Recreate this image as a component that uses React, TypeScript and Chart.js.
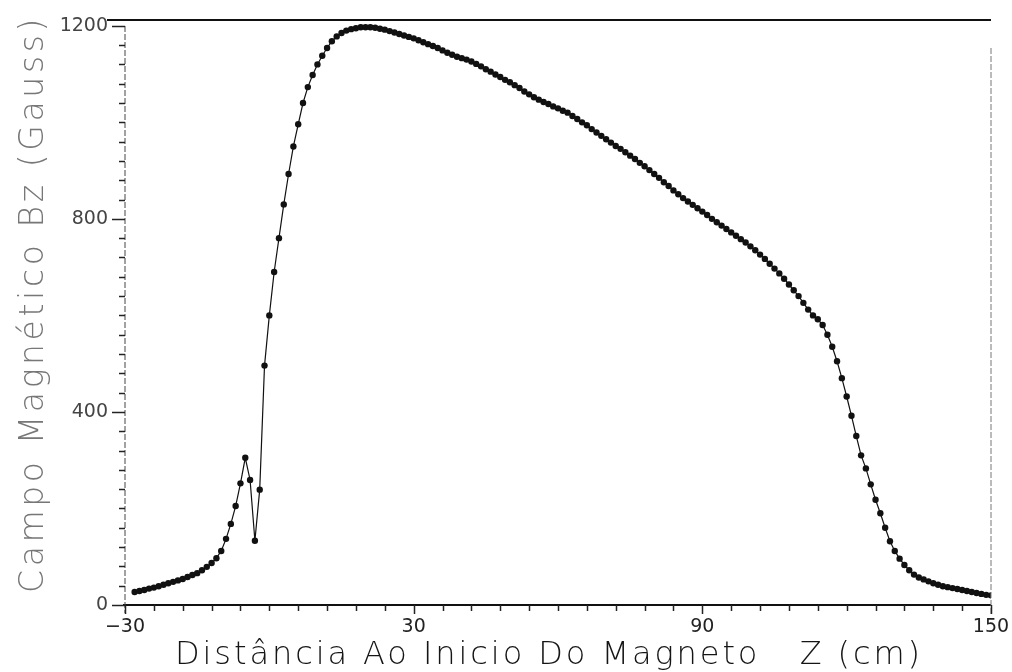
import { useEffect, useRef } from 'react';
import { Chart, registerables } from 'chart.js';

Chart.register(...registerables);

const zPositions = [
  -28, -27, -26, -25, -24, -23, -22, -21, -20, -19,
  -18, -17, -16, -15, -14, -13, -12, -11, -10, -9,
  -8, -7, -6, -5, -4, -3, -2, -1, 0, 1,
  2, 3, 4, 5, 6, 7, 8, 9, 10, 11,
  12, 13, 14, 15, 16, 17, 18, 19, 20, 21,
  22, 23, 24, 25, 26, 27, 28, 29, 30, 31,
  32, 33, 34, 35, 36, 37, 38, 39, 40, 41,
  42, 43, 44, 45, 46, 47, 48, 49, 50, 51,
  52, 53, 54, 55, 56, 57, 58, 59, 60, 61,
  62, 63, 64, 65, 66, 67, 68, 69, 70, 71,
  72, 73, 74, 75, 76, 77, 78, 79, 80, 81,
  82, 83, 84, 85, 86, 87, 88, 89, 90, 91,
  92, 93, 94, 95, 96, 97, 98, 99, 100, 101,
  102, 103, 104, 105, 106, 107, 108, 109, 110, 111,
  112, 113, 114, 115, 116, 117, 118, 119, 120, 121,
  122, 123, 124, 125, 126, 127, 128, 129, 130, 131,
  132, 133, 134, 135, 136, 137, 138, 139, 140, 141,
  142, 143, 144, 145, 146, 147, 148, 149, 150,
];

const bzValues = [
  27, 29, 31, 34, 36, 39, 42, 45, 48, 51,
  54, 58, 62, 66, 72, 79, 87, 97, 112, 137,
  168, 205, 252, 305, 259, 133, 239, 496, 600, 690,
  760, 830, 893, 950, 996, 1040, 1073, 1098, 1120, 1138,
  1154, 1168, 1178, 1185, 1190, 1193, 1195, 1197, 1197, 1197,
  1196, 1194, 1192, 1189, 1186, 1183, 1180, 1177, 1174, 1170,
  1166, 1162, 1158, 1154, 1149, 1144, 1140, 1136, 1133, 1130,
  1126, 1121, 1116, 1110, 1105, 1099, 1094, 1088, 1083, 1077,
  1071, 1064, 1058, 1052, 1047, 1042, 1038, 1033, 1029, 1024,
  1020, 1013, 1007, 1000, 994, 986, 979, 972, 965, 958,
  951, 945, 938, 931, 924, 916, 909, 901, 893, 885,
  876, 868, 859, 851, 843, 836, 829, 822, 815, 808,
  800, 793, 786, 779, 772, 765, 758, 751, 743, 735,
  726, 717, 707, 697, 687, 676, 664, 652, 640, 626,
  612, 600, 592, 580, 560, 535, 505, 470, 432, 392,
  350, 310, 283, 250, 218, 190, 160, 132, 112, 96,
  83, 72, 63, 57, 53, 49, 45, 42, 39, 37,
  35, 33, 31, 29, 27, 25, 23, 21, 20,
];

const xTickValues = [-30, 30, 90, 150];
const yTickValues = [0, 400, 800, 1200];
const xMinorStep = 6;
const yMinorStep = 40;
const xTitle = 'Distância Ao Inicio Do Magneto   Z (cm)';
const yTitle = 'Campo Magnético Bz (Gauss)';

const decorPlugin = {
  id: 'decor',
  afterDraw(chart: any) {
    const { ctx, chartArea, scales } = chart;
    const xs = scales.x;
    const ys = scales.y;
    ctx.save();
    // frame
    ctx.strokeStyle = '#111';
    ctx.lineWidth = 2;
    ctx.beginPath();
    ctx.moveTo(chartArea.left - 18, chartArea.top);
    ctx.lineTo(chartArea.right, chartArea.top);
    ctx.stroke();
    ctx.beginPath();
    ctx.moveTo(chartArea.left - 2, chartArea.bottom);
    ctx.lineTo(chartArea.right, chartArea.bottom);
    ctx.stroke();
    ctx.lineWidth = 1;
    ctx.strokeStyle = '#444';
    ctx.setLineDash([6, 2]);
    ctx.beginPath();
    ctx.moveTo(chartArea.left, chartArea.top + 6);
    ctx.lineTo(chartArea.left, chartArea.bottom + 8);
    ctx.stroke();
    ctx.strokeStyle = '#777';
    ctx.beginPath();
    ctx.moveTo(chartArea.right, chartArea.top + 28);
    ctx.lineTo(chartArea.right, chartArea.bottom + 10);
    ctx.stroke();
    ctx.setLineDash([]);
    // y ticks
    ctx.strokeStyle = '#222';
    ctx.lineWidth = 1.5;
    for (let v = 0; v <= 1200; v += yMinorStep) {
      const py = Math.round(ys.getPixelForValue(v)) + 0.5;
      const major = yTickValues.includes(v);
      ctx.beginPath();
      ctx.moveTo(chartArea.left, py);
      ctx.lineTo(chartArea.left - (major ? 13 : 6), py);
      ctx.stroke();
    }
    // x ticks
    for (let v = -30; v <= 150; v += xMinorStep) {
      const px = Math.round(xs.getPixelForValue(v)) + 0.5;
      const major = xTickValues.includes(v);
      ctx.beginPath();
      ctx.moveTo(px, chartArea.bottom);
      ctx.lineTo(px, chartArea.bottom + (major ? 9 : 6));
      ctx.stroke();
    }
    // titles
    const drawSpaced = (text: string, font: string, color: string, target: number) => {
      ctx.font = font;
      ctx.fillStyle = color;
      (ctx as any).letterSpacing = '0px';
      const w = ctx.measureText(text).width;
      const ls = (target - w) / text.length;
      (ctx as any).letterSpacing = ls + 'px';
    };
    ctx.save();
    drawSpaced(xTitle, '300 32px "DejaVu Sans"', '#151515', 748);
    ctx.textAlign = 'left';
    ctx.textBaseline = 'alphabetic';
    ctx.fillText(xTitle, 175, 664);
    ctx.restore();
    ctx.save();
    drawSpaced(yTitle, '300 33px "DejaVu Sans"', '#777', 578);
    ctx.translate(43, 304);
    ctx.rotate(-Math.PI / 2);
    ctx.textAlign = 'center';
    ctx.textBaseline = 'alphabetic';
    ctx.fillText(yTitle, 0, 0);
    ctx.restore();
    ctx.restore();
  },
};

export default function App() {
  const canvasRef = useRef<HTMLCanvasElement | null>(null);

  useEffect(() => {
    document.body.style.margin = '0';
    const canvas = canvasRef.current;
    if (!canvas) return;
    const points = zPositions.map((z, i) => ({ x: z, y: bzValues[i] }));
    const chart = new Chart(canvas, {
      type: 'scatter',
      data: {
        datasets: [
          {
            data: points,
            showLine: true,
            borderColor: '#111',
            borderWidth: 1.2,
            backgroundColor: '#111',
            pointBackgroundColor: '#111',
            pointBorderColor: '#111',
            pointRadius: 3.2,
            pointBorderWidth: 0,
            pointStyle: 'circle',
            tension: 0,
          },
        ],
      },
      options: {
        animation: false,
        responsive: true,
        maintainAspectRatio: false,
        layout: { padding: { left: 0, top: 20, right: 21, bottom: 0 } },
        plugins: {
          legend: { display: false },
          tooltip: { enabled: false },
          title: { display: false },
        },
        scales: {
          x: {
            type: 'linear',
            min: -30,
            max: 150,
            afterBuildTicks: (s: any) => {
              s.ticks = xTickValues.map((v) => ({ value: v }));
            },
            afterFit: (s: any) => {
              s.height = 67;
              s.paddingLeft = 0;
              s.paddingRight = 0;
            },
            grid: { display: false, drawTicks: false },
            border: { display: false },
            ticks: {
              autoSkip: false,
              maxRotation: 0,
              padding: 11,
              color: '#222',
              font: { family: '"DejaVu Sans"', size: 19 },
              callback: (v: any) => (Number(v) < 0 ? '\u2212' + Math.abs(Number(v)) : String(v)),
            },
          },
          y: {
            type: 'linear',
            min: 0,
            max: 1212,
            afterBuildTicks: (s: any) => {
              s.ticks = yTickValues.map((v) => ({ value: v }));
            },
            afterFit: (s: any) => {
              s.width = 125;
              s.paddingTop = 0;
              s.paddingBottom = 0;
            },
            grid: { display: false, drawTicks: false },
            border: { display: false },
            ticks: {
              autoSkip: false,
              padding: 17,
              color: '#444',
              font: { family: '"DejaVu Sans"', size: 19 },
              callback: (v: any) => String(v),
            },
          },
        },
      },
      plugins: [decorPlugin],
    });
    return () => chart.destroy();
  }, []);

  return (
    <div style={{ width: 1012, height: 672, position: 'relative', background: '#fff' }}>
      <canvas ref={canvasRef} />
    </div>
  );
}
